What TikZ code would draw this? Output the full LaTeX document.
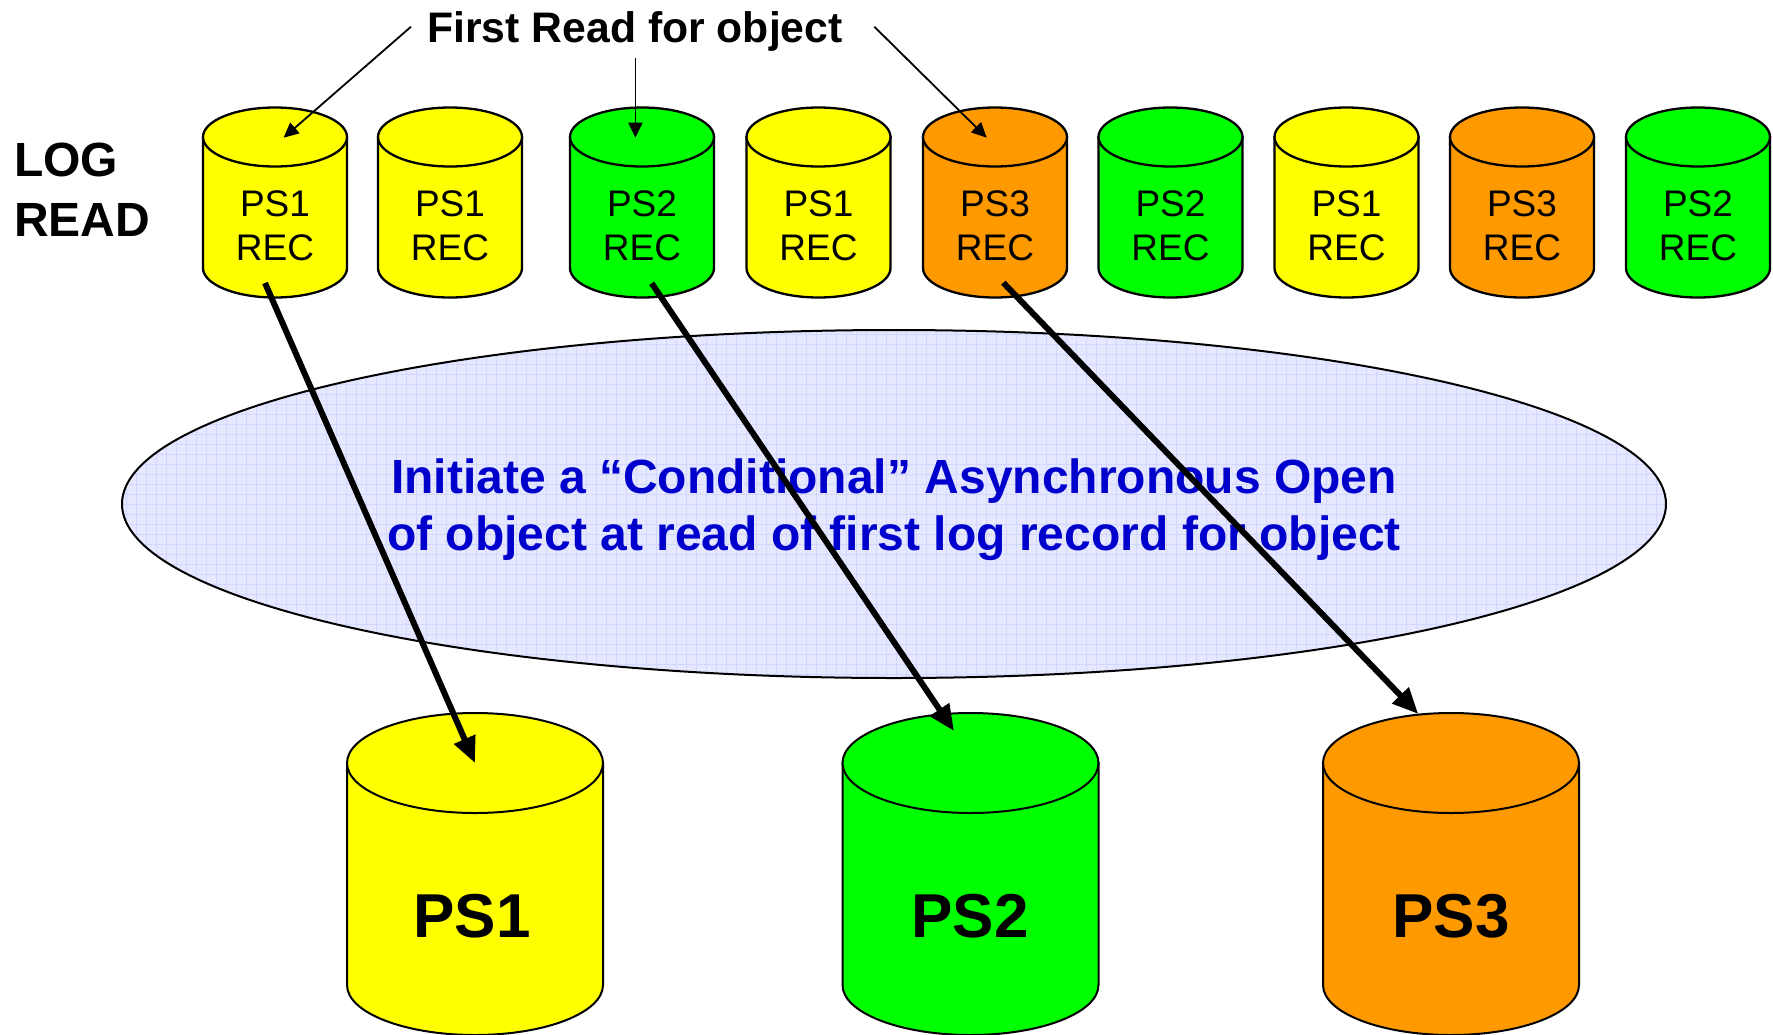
\documentclass[tikz,border=0pt]{standalone}
\usepackage{fontspec}
\setmainfont{Liberation Sans}
\usetikzlibrary{arrows.meta,calc}

\definecolor{psyellow}{RGB}{255,255,0}
\definecolor{psgreen}{RGB}{0,255,0}
\definecolor{psorange}{RGB}{255,153,0}
\definecolor{cloudfill}{RGB}{230,232,255}
\definecolor{cloudgrid}{RGB}{210,215,255}
\definecolor{cloudtext}{RGB}{0,0,204}

% drum{name}{x}{top y}{bottom y}{x radius}{y radius}{fill}{outline width}
\newcommand\drum[8]{%
  \coordinate (#1-top) at (#2,#3);
  \coordinate (#1-bot) at (#2,#4);
  \filldraw[fill=#7, draw=black, line width=#8]
    ($(#1-top)+(-#5,0)$) -- ($(#1-bot)+(-#5,0)$)
    arc[start angle=180, end angle=0, x radius=#5, y radius=#6]
    -- ($(#1-top)+(#5,0)$) -- cycle;
  \filldraw[fill=#7, draw=black, line width=#8]
    (#1-top) ellipse[x radius=#5, y radius=#6];
}

\tikzset{
  reclabel/.style={anchor=base, inner sep=0pt,
    font=\fontsize{37}{44}\selectfont},
  biglabel/.style={anchor=base, inner sep=0pt,
    font=\fontsize{62}{72}\selectfont\bfseries},
  sidelabel/.style={anchor=base west, inner sep=0pt,
    font=\fontsize{48}{57}\selectfont\bfseries},
  cloudlabel/.style={anchor=base, inner sep=0pt, text=cloudtext,
    font=\fontsize{48}{57}\selectfont\bfseries},
  titlelabel/.style={anchor=base, inner sep=0pt,
    font=\fontsize{42.7}{50}\selectfont\bfseries},
  openarrow/.style={line width=6pt, -{Triangle[length=26pt,width=22pt]}},
  pointer/.style={line width=1.8pt, -{Triangle[length=15pt,width=14pt]}},
}

\begin{document}
\begin{tikzpicture}[x=1pt, y=-1pt]
  \useasboundingbox (0,0) rectangle (1773,1034);
  \fill[white] (0,0) rectangle (1773,1034);

  % shaded ellipse with a fine grid texture
  \begin{scope}
    \clip (894,504) ellipse[x radius=772, y radius=174];
    \fill[cloudfill] (120,328) rectangle (1668,680);
    \foreach \gx in {126,136,...,1666}
      \draw[cloudgrid, line width=0.7pt] (\gx,328) -- (\gx,680);
    \foreach \gy in {334,344,...,680}
      \draw[cloudgrid, line width=0.7pt] (120,\gy) -- (1668,\gy);
  \end{scope}
  \draw[line width=2pt] (894,504) ellipse[x radius=772, y radius=174];

  \node[cloudlabel] (cloud1) at (894,493.3)
    {Initiate a “Conditional” Asynchronous Open};
  \node[cloudlabel] (cloud2) at (894,550)
    {of object at read of first log record for object};

  % page sets
  \drum{big1}{475}{763}{985}{128}{50}{psyellow}{2pt}
  \drum{big2}{970.5}{763}{985}{128}{50}{psgreen}{2pt}
  \drum{big3}{1451}{763}{985}{128}{50}{psorange}{2pt}
  \node[biglabel] (ps1) at (472,937) {PS1};
  \node[biglabel] (ps2) at (970,937) {PS2};
  \node[biglabel] (ps3) at (1451,937) {PS3};

  % log records
  \foreach \i/\x/\c/\t in {1/275/psyellow/PS1, 2/450/psyellow/PS1,
      3/642/psgreen/PS2, 4/818.5/psyellow/PS1, 5/995/psorange/PS3,
      6/1170.5/psgreen/PS2, 7/1346.5/psyellow/PS1, 8/1522/psorange/PS3,
      9/1698/psgreen/PS2} {
    \drum{s\i}{\x}{137}{268}{72}{29.5}{\c}{2.3pt}
    \node[reclabel] (s\i-ps) at (\x,216.7) {\t};
    \node[reclabel] (s\i-rec) at (\x,260) {REC};
  }

  \node[sidelabel] (log) at (14,176.7) {LOG};
  \node[sidelabel] (read) at (14,236) {READ};

  \node[titlelabel] (title) at (635,42.7) {First Read for object};
  \coordinate (fr-left) at (411,26.7);
  \coordinate (fr-mid) at (635.4,58.3);
  \coordinate (fr-right) at (874.3,26.7);
  \draw[pointer] (fr-left) -- ($(s1-top)+(8.6,0.7)$);
  \draw[pointer] (fr-mid) -- ($(s3-top)+(-6.6,0.7)$);
  \draw[pointer] (fr-right) -- ($(s5-top)+(-8.3,0.7)$);

  % opens triggered by the first record of each object
  \draw[openarrow] ($(s1-bot)+(-10,15)$) -- (big1-top);
  \draw[openarrow] ($(s3-bot)+(9.7,15.3)$) -- ($(big2-top)+(-16.5,-32)$);
  \draw[openarrow] ($(s5-bot)+(8.3,14.7)$) -- ($(big3-top)+(-32.7,-49)$);
\end{tikzpicture}
\end{document}
